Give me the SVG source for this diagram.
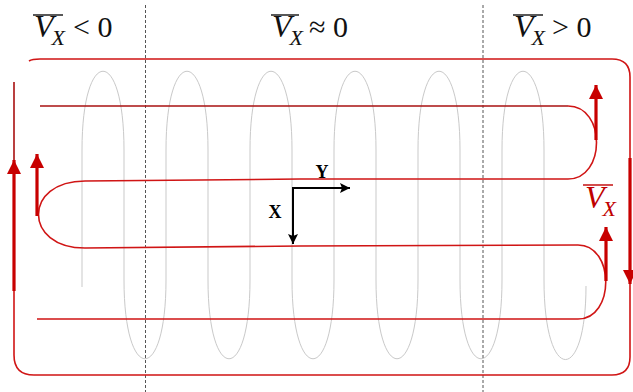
<svg xmlns="http://www.w3.org/2000/svg" width="633" height="392" viewBox="0 0 633 392">
<defs>
<style>
.lbl{font-family:"Liberation Serif",serif;font-size:30px;fill:#111}
.it{font-style:italic;font-size:32px}
.sub{font-style:italic;font-size:22px}
.ovl{stroke:#111;stroke-width:1.4}
.red{fill:none;stroke:#d01515;stroke-width:1.6}
.dred{fill:none;stroke:#a81010;stroke-width:1.6}
.thick{fill:none;stroke:#c80000;stroke-width:3.2}
.dash{stroke:#555;stroke-width:1;stroke-dasharray:3 2}
.track{fill:none;stroke:#c9c9c9;stroke-width:1}
.ax{stroke:#000;stroke-width:2;fill:none}
.axl{font-family:"Liberation Serif",serif;font-weight:bold;font-size:18px;fill:#000}
</style>
<marker id="ah" markerUnits="userSpaceOnUse" markerWidth="16" markerHeight="16" refX="14" refY="7" orient="auto">
<path d="M0,0 L14,7 L0,14 Z" fill="#c80000"/>
</marker>
<marker id="bh" markerUnits="userSpaceOnUse" markerWidth="12" markerHeight="10" refX="10" refY="5" orient="auto">
<path d="M0,0 L10,5 L0,10 L2,5 Z" fill="#000"/>
</marker>
</defs>
<rect width="633" height="392" fill="#fff"/>

<g id="track">
<path class="track" d="M82,287 L82,150 C82,45 124,45 124,150 L124,280 C124,385 166,385 166,280 L166,150 C166,45 208,45 208,150 L208,280 C208,385 250,385 250,280 L250,150 C250,45 292,45 292,150 L292,280 C292,385 334,385 334,280 L334,150 C334,45 376,45 376,150 L376,280 C376,385 418,385 418,280 L418,150 C418,45 460,45 460,150 L460,280 C460,385 502,385 502,280 L502,150 C502,45 544,45 544,150 L544,280 C544,385 586,385 586,286"/>
</g>

<g id="dividers">
<line class="dash" x1="145.5" y1="5" x2="145.5" y2="392"/>
<line class="dash" x1="483" y1="5" x2="483" y2="392"/>
</g>

<g id="connectors">
<path id="outer-loop" class="red" d="M29,61 Q32,59 40,59 L612,59 Q630,59 630,77 L630,357 Q630,375 612,375 L34,375 Q14,375 14,355 L14,291"/>
<path id="outer-left-top" class="dred" d="M14,82 L14,175"/>
<path id="inner-path" class="red" d="M568,106 C606,106 606,179 568,179 L300,179 L200,180 L85,181 C23,181 23,248 85,248 L300,246 L578,245 C615,245 615,319 578,319 L37,319"/>
<path id="inner-top" class="dred" d="M40,106 L568,106"/>
</g>

<g id="arrows">
<line class="thick" x1="14" y1="291" x2="14" y2="160" marker-end="url(#ah)"/>
<line class="thick" x1="37" y1="216" x2="37" y2="154" marker-end="url(#ah)"/>
<line class="thick" x1="596" y1="140" x2="596" y2="85" marker-end="url(#ah)"/>
<line class="thick" x1="606" y1="281" x2="606" y2="227" marker-end="url(#ah)"/>
<line class="thick" x1="630" y1="158" x2="630" y2="284" marker-end="url(#ah)"/>
</g>

<g id="label-neg">
<line class="ovl" x1="33" y1="15" x2="63" y2="15"/>
<text class="lbl" x="34" y="37"><tspan class="it">V</tspan><tspan class="sub" dx="-2" dy="8">X</tspan></text>
<text class="lbl" x="73" y="37">&lt; 0</text>
</g>

<g id="label-zero">
<line class="ovl" x1="271" y1="15" x2="299" y2="15"/>
<text class="lbl" x="272" y="37"><tspan class="it">V</tspan><tspan class="sub" dx="-2" dy="8">X</tspan></text>
<text class="lbl" x="309" y="37">≈ 0</text>
</g>

<g id="label-pos">
<line class="ovl" x1="513" y1="15" x2="543" y2="15"/>
<text class="lbl" x="514" y="37"><tspan class="it">V</tspan><tspan class="sub" dx="-2" dy="8">X</tspan></text>
<text class="lbl" x="552" y="37">&gt; 0</text>
</g>

<g id="label-vx-red">
<line class="ovl" style="stroke:#c00000" x1="583" y1="185" x2="613" y2="185"/>
<text class="lbl" style="fill:#c00000" x="585" y="208"><tspan class="it">V</tspan><tspan class="sub" dx="-2" dy="8">X</tspan></text>
</g>

<g id="axes">
<path class="ax" d="M293,188 L350,188" marker-end="url(#bh)"/>
<path class="ax" d="M293,187 L293,244" marker-end="url(#bh)"/>
<text class="axl" x="322" y="178" text-anchor="middle">Y</text>
<text class="axl" x="275" y="218" text-anchor="middle">X</text>
</g>
</svg>
